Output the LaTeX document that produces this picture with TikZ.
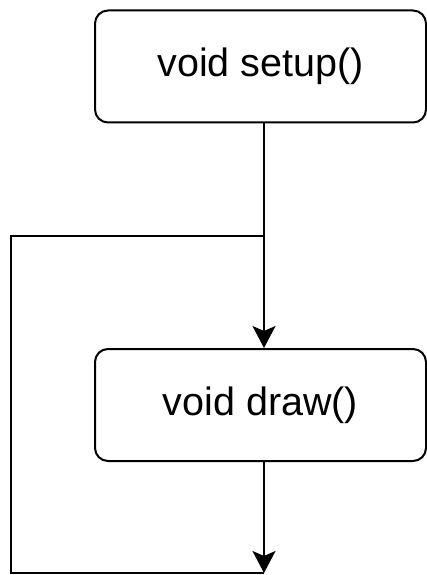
\documentclass[tikz,border=0pt]{standalone}
\usepackage{fontspec}
\setmainfont{Liberation Sans}
\usetikzlibrary{arrows.meta}
\tikzset{
  fnbox/.style={draw=black, line width=2pt, rounded corners=13pt, minimum width=331pt, minimum height=112pt, inner sep=0pt, font=\fontsize{39.5}{45}\selectfont},
  conn/.style={draw=black, line width=2pt, -{Stealth[length=22pt,width=23pt,inset=5pt]}},
  plain/.style={draw=black, line width=2pt}
}
\begin{document}
\begin{tikzpicture}[x=1pt,y=-1pt]
\useasboundingbox (0,0) rectangle (427,575);
\node[fnbox] (setup) at (260.5,66.5) {void setup()};
\node[fnbox] (draw) at (260.5,405) {void draw()};
\coordinate (j) at (264,236);
\coordinate (e) at (264,573);
\coordinate (bl) at (11,573);
\coordinate (tl) at (11,236);
\draw[plain] (setup.south -| j) -- (j);
\draw[conn] (j) -- (draw.north -| j);
\draw[conn] (draw.south -| e) -- (e);
\draw[plain, line join=miter] (e) -- (bl) -- (tl) -- (j);
\end{tikzpicture}
\end{document}
